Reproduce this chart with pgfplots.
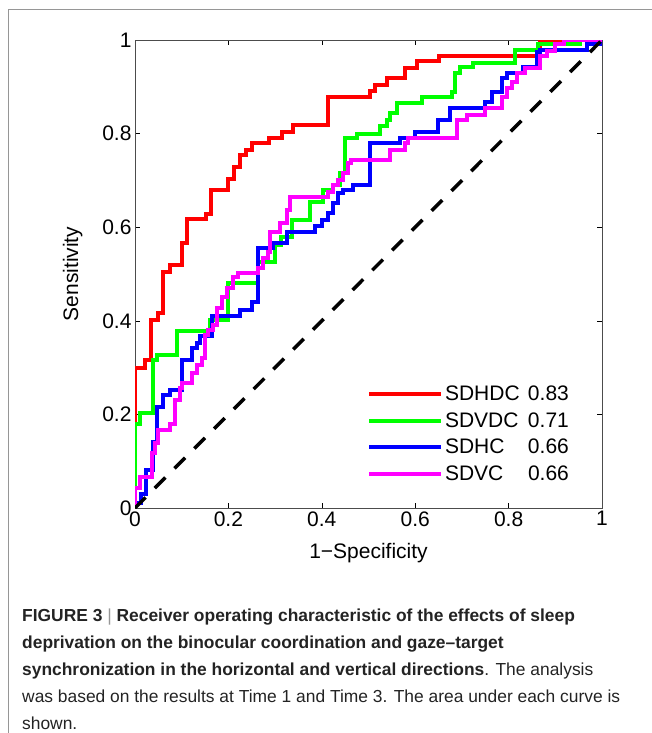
\documentclass[border=0pt]{standalone}
\usepackage{fontspec}
\setmainfont{Liberation Sans}
\usepackage{pgfplots}
\pgfplotsset{compat=1.18}

\definecolor{framegray}{RGB}{150,150,150}
\definecolor{capgray}{RGB}{35,35,35}
\definecolor{pure red}{RGB}{255,0,0}
\definecolor{pure green}{RGB}{0,255,0}
\definecolor{pure blue}{RGB}{0,0,255}
\definecolor{pure magenta}{RGB}{255,0,255}

\begin{document}
\begin{tikzpicture}
\path[use as bounding box] (0bp,0bp) rectangle (652bp,-733bp);
% figure frame (top and left)
\draw[framegray, line width=0.8bp] (8bp,-733bp) -- (8bp,-9bp) -- (652bp,-9bp);

\begin{axis}[
    at={(135bp,-508bp)},
    anchor=south west,
    scale only axis,
    width=467bp,
    height=468bp,
    xmin=0, xmax=1,
    ymin=0, ymax=1,
    xtick={0,0.2,0.4,0.6,0.8,1},
    ytick={0,0.2,0.4,0.6,0.8,1},
    xticklabels={0,0.2,0.4,0.6,0.8,1},
    yticklabels={0,0.2,0.4,0.6,0.8,1},
    tick align=inside,
    major tick length=5bp,
    axis line style={draw=black!70, line width=0.6bp},
    tick style={black, line width=0.6bp},
    /pgf/number format/assume math mode=true,
    ticklabel style={font=\fontsize{21bp}{24bp}\selectfont},
    label style={font=\fontsize{21bp}{24bp}\selectfont},
    xlabel={1−Specificity},
    ylabel={Sensitivity},
    xlabel style={yshift=-10bp},
    ylabel style={yshift=13bp},
    legend style={draw=none, fill=none, at={(0.49,0.27)}, anchor=north west,
        font=\fontsize{21bp}{24bp}\selectfont, row sep=6.5bp,
        nodes={inner sep=2bp}},
    legend cell align=left,
    legend image code/.code={\draw[#1] (0bp,0bp) -- (72bp,0bp);},
]

% SDHDC
\addplot[pure red, line width=4bp] coordinates {
(0,0)(0,0.30)(0.021,0.30)(0.021,0.316)(0.034,0.316)(0.034,0.402)(0.049,0.402)
(0.049,0.417)(0.060,0.417)(0.060,0.504)(0.075,0.504)(0.075,0.519)(0.100,0.519)
(0.100,0.566)(0.111,0.566)(0.111,0.617)(0.152,0.617)(0.152,0.628)(0.163,0.628)
(0.163,0.679)(0.199,0.679)(0.199,0.703)(0.212,0.703)(0.212,0.729)(0.225,0.729)
(0.225,0.754)(0.238,0.754)(0.238,0.765)(0.251,0.765)(0.251,0.780)(0.287,0.780)
(0.287,0.791)(0.315,0.791)(0.315,0.803)(0.338,0.803)(0.338,0.818)(0.413,0.818)
(0.413,0.878)(0.503,0.878)(0.503,0.891)(0.514,0.891)(0.514,0.904)(0.540,0.904)
(0.540,0.919)(0.578,0.919)(0.578,0.940)(0.604,0.940)(0.604,0.955)(0.651,0.955)
(0.651,0.966)(0.867,0.966)(0.867,1)(1,1)
};
\addlegendentry{\makebox[83bp][l]{SDHDC}0.83}

% SDVDC
\addplot[pure green, line width=4bp] coordinates {
(0,0)(0,0.18)(0.011,0.18)(0.011,0.203)(0.039,0.203)(0.039,0.316)(0.047,0.316)
(0.047,0.327)(0.090,0.327)(0.090,0.378)(0.161,0.378)(0.161,0.402)(0.199,0.402)
(0.199,0.481)(0.263,0.481)(0.263,0.526)(0.300,0.526)(0.300,0.562)(0.313,0.562)
(0.313,0.579)(0.336,0.579)(0.336,0.615)(0.375,0.615)(0.375,0.654)(0.403,0.654)
(0.403,0.680)(0.424,0.680)(0.424,0.690)(0.439,0.690)(0.439,0.716)(0.450,0.716)
(0.450,0.790)(0.475,0.790)(0.475,0.800)(0.525,0.800)(0.525,0.816)(0.540,0.816)
(0.540,0.829)(0.546,0.829)(0.546,0.844)(0.561,0.844)(0.561,0.865)(0.615,0.865)
(0.615,0.878)(0.679,0.878)(0.679,0.889)(0.685,0.889)(0.685,0.929)(0.696,0.929)
(0.696,0.942)(0.724,0.942)(0.724,0.951)(0.814,0.951)(0.814,0.979)(0.863,0.979)
(0.863,0.991)(0.953,0.991)(0.953,1)(1,1)
};
\addlegendentry{\makebox[83bp][l]{SDVDC}0.71}

% SDHC
\addplot[pure blue, line width=4bp] coordinates {
(0,0)(0,0.010)(0.013,0.010)(0.013,0.030)(0.024,0.030)(0.024,0.081)(0.039,0.081)
(0.039,0.141)(0.047,0.141)(0.047,0.216)(0.060,0.216)(0.060,0.241)(0.075,0.241)
(0.075,0.252)(0.100,0.252)(0.100,0.316)(0.122,0.316)(0.122,0.342)(0.133,0.342)
(0.133,0.352)(0.139,0.352)(0.139,0.368)(0.165,0.368)(0.165,0.410)(0.225,0.410)
(0.225,0.423)(0.250,0.423)(0.250,0.440)(0.263,0.440)(0.263,0.555)(0.295,0.555)
(0.295,0.566)(0.325,0.566)(0.325,0.590)(0.385,0.590)(0.385,0.603)(0.400,0.603)
(0.400,0.615)(0.413,0.615)(0.413,0.630)(0.424,0.630)(0.424,0.652)(0.435,0.652)
(0.435,0.673)(0.445,0.673)(0.445,0.680)(0.467,0.680)(0.467,0.690)(0.503,0.690)
(0.503,0.780)(0.567,0.780)(0.567,0.791)(0.600,0.791)(0.600,0.803)(0.649,0.803)
(0.649,0.829)(0.675,0.829)(0.675,0.855)(0.750,0.855)(0.750,0.868)(0.764,0.868)
(0.764,0.889)(0.786,0.889)(0.786,0.919)(0.797,0.919)(0.797,0.929)(0.830,0.929)
(0.830,0.942)(0.861,0.942)(0.861,0.974)(0.868,0.974)(0.868,0.979)(0.968,0.979)
(0.968,0.991)(1,0.991)(1,1)
};
\addlegendentry{\makebox[83bp][l]{SDHC}0.66}

% SDVC
\addplot[pure magenta, line width=4bp] coordinates {
(0,0)(0,0.043)(0.011,0.043)(0.011,0.066)(0.036,0.066)(0.036,0.117)(0.043,0.117)
(0.043,0.139)(0.049,0.139)(0.049,0.167)(0.075,0.167)(0.075,0.180)(0.086,0.180)
(0.086,0.230)(0.096,0.230)(0.096,0.256)(0.100,0.256)(0.100,0.267)(0.122,0.267)
(0.122,0.288)(0.133,0.288)(0.133,0.305)(0.143,0.305)(0.143,0.320)(0.150,0.320)
(0.150,0.370)(0.156,0.370)(0.156,0.380)(0.167,0.380)(0.167,0.390)(0.176,0.390)
(0.176,0.427)(0.186,0.427)(0.186,0.451)(0.197,0.451)(0.197,0.470)(0.210,0.470)
(0.210,0.494)(0.220,0.494)(0.220,0.502)(0.263,0.502)(0.263,0.513)(0.274,0.513)
(0.274,0.534)(0.285,0.534)(0.285,0.547)(0.289,0.547)(0.289,0.590)(0.310,0.590)
(0.310,0.609)(0.325,0.609)(0.325,0.637)(0.332,0.637)(0.332,0.665)(0.413,0.665)
(0.413,0.675)(0.424,0.675)(0.424,0.690)(0.435,0.690)(0.435,0.700)(0.445,0.700)
(0.445,0.716)(0.456,0.716)(0.456,0.737)(0.462,0.737)(0.462,0.744)(0.547,0.744)
(0.547,0.765)(0.578,0.765)(0.578,0.780)(0.585,0.780)(0.585,0.791)(0.689,0.791)
(0.689,0.829)(0.710,0.829)(0.710,0.840)(0.750,0.840)(0.750,0.855)(0.786,0.855)
(0.786,0.878)(0.797,0.878)(0.797,0.897)(0.808,0.897)(0.808,0.910)(0.819,0.910)
(0.819,0.929)(0.835,0.929)(0.835,0.940)(0.867,0.940)(0.867,0.966)(0.882,0.966)
(0.882,0.976)(0.899,0.976)(0.899,0.991)(0.918,0.991)(0.918,1)(1,1)
};
\addlegendentry{\makebox[83bp][l]{SDVC}0.66}

% chance line
\addplot[black, line width=3.5bp, dash pattern=on 15bp off 13bp, forget plot]
    coordinates {(0,0)(1,1)};

\end{axis}

\node[anchor=north west, inner sep=0pt, align=left,
      font=\fontsize{17.4bp}{26.8bp}\selectfont, text=capgray]
    at (22bp,-609bp)
    {\textbf{FIGURE 3} {\color{framegray}|} \textbf{Receiver operating characteristic of the effects of sleep}\\
     \textbf{deprivation on the binocular coordination and gaze--target}\\
     \textbf{synchronization in the horizontal and vertical directions}. The analysis\\
     was based on the results at Time 1 and Time 3. The area under each curve is\\
     shown.};
\end{tikzpicture}
\end{document}
